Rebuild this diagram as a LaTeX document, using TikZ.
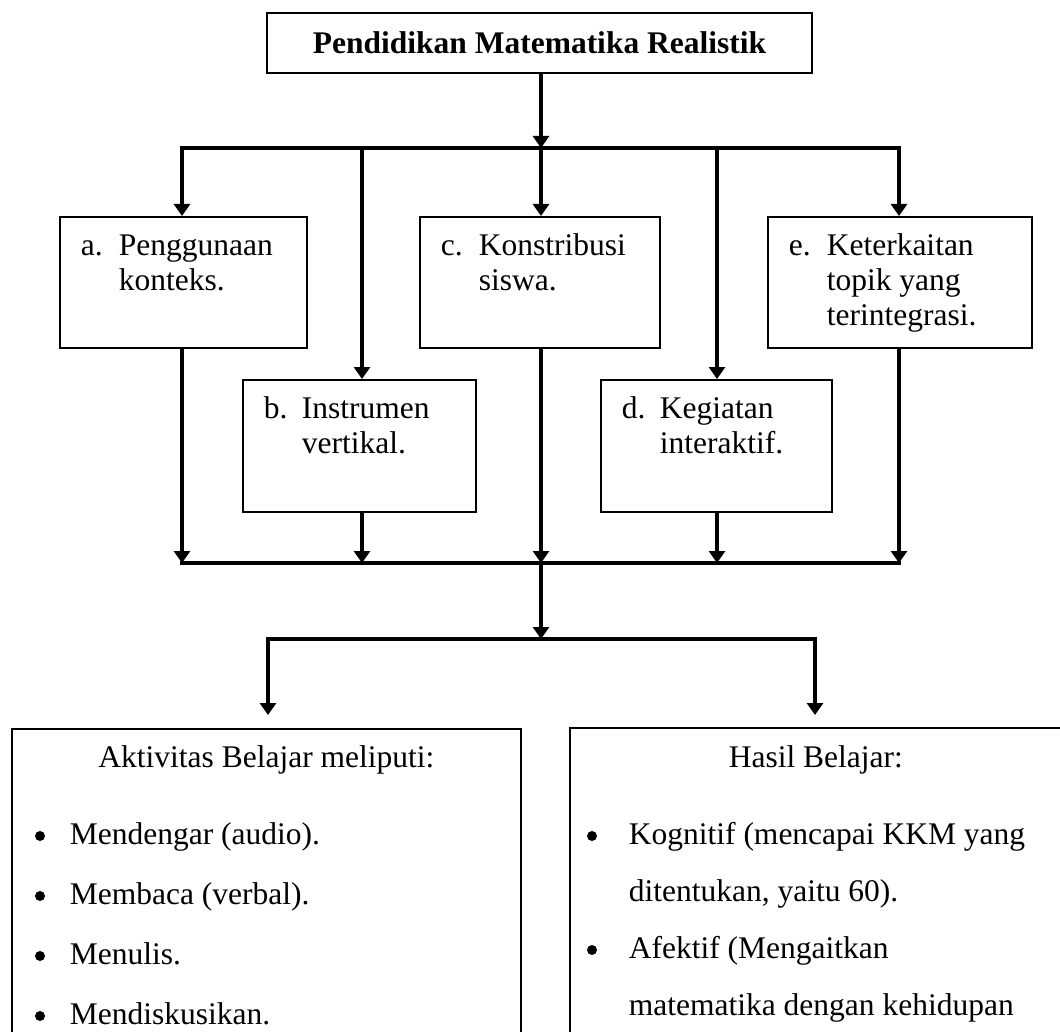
\documentclass[tikz,border=0pt]{standalone}
\usepackage{fontspec}
\setmainfont{Liberation Serif}
\usetikzlibrary{arrows.meta}
\newcommand{\boxlbl}[4]{\parbox[c][#2][t]{#1}{\leftskip=21pt\rightskip=0pt plus 1fil\parindent=0pt\hangindent=38pt\hangafter=1\noindent\rule{0pt}{39pt}\makebox[38pt][l]{#3}#4}}
\tikzset{
  conn/.style={line width=4pt},
  arr/.style={line width=4pt,-{Triangle[width=16pt,length=12pt]}},
  itembox/.style={draw,line width=1.6pt,inner sep=0pt,anchor=north west,font=\fontsize{31.5}{35}\selectfont},
  topbox/.style={draw,line width=2pt,inner sep=0pt,minimum width=545pt,minimum height=60pt,font=\bfseries\fontsize{31.5}{35}\selectfont},
  lowbox/.style={draw,line width=1.8pt,inner sep=0pt,anchor=north west,font=\fontsize{31.5}{60}\selectfont},
  bullet/.style={fill=black}
}
\begin{document}
\begin{tikzpicture}[x=1pt,y=-1pt]
\useasboundingbox[fill=white] (0,0) rectangle (1060,1032);
% top
\node[topbox] (top) at (539.5,42.7) {Pendidikan Matematika Realistik};
% principle boxes
\node[itembox] (a) at (59,216) {\boxlbl{247pt}{131pt}{a.}{Penggunaan\\konteks.}};
\node[itembox] (b) at (242,379) {\boxlbl{233pt}{132pt}{b.}{Instrumen\\vertikal.}};
\node[itembox] (c) at (419,216) {\boxlbl{240pt}{131pt}{c.}{Konstribusi\\siswa.}};
\node[itembox] (d) at (600,379) {\boxlbl{231pt}{132pt}{d.}{Kegiatan\\interaktif.}};
\node[itembox] (e) at (767,216) {\boxlbl{264pt}{131pt}{e.}{Keterkaitan\\topik yang\\terintegrasi.}};
% lower boxes
\node[lowbox] (L) at (11,728) {\parbox[c][400pt][t]{509pt}{\centering\rule{0pt}{39pt}Aktivitas Belajar meliputi:\par\vspace{17pt}%
\raggedright\leftskip=58pt
\noindent Mendengar (audio).\par
\noindent Membaca (verbal).\par
\noindent Menulis.\par
\noindent Mendiskusikan.\par}};
\node[lowbox] (R) at (569,727) {\parbox[c][400pt][t]{500pt}{\fontsize{31.5}{57}\selectfont\centering\rule{0pt}{40pt}Hasil Belajar:\hspace*{8pt}\par\vspace{20pt}%
\raggedright\leftskip=59pt
\noindent Kognitif (mencapai KKM yang\\ditentukan, yaitu 60).\par
\noindent Afektif (Mengaitkan\\matematika dengan kehidupan\par}};
% bullets
\foreach \yy in {836,896,956,1016} \fill[bullet] (40,\yy) circle (5pt);
\foreach \yy in {836,950} \fill[bullet] (592,\yy) circle (5pt);
% coordinates
\coordinate (busL) at (182,148);
\coordinate (busR) at (899,148);
\coordinate (busC) at (541,148);
\coordinate (xb) at (362,148);
\coordinate (xd) at (717,148);
\coordinate (botL) at (182,563);
\coordinate (botR) at (899,563);
\coordinate (botC) at (541,563);
\coordinate (splitC) at (541,639);
\coordinate (splitL) at (268,639);
\coordinate (splitR) at (815,639);
% top connectors
\draw[arr] (top.south -| busC) -- (busC);
\draw[arr] (busR) -- (busL) -- (busL |- a.north);
\draw[arr] (busL) -- (busR) -- (busR |- e.north);
\draw[arr] (xb) -- (xb |- b.north);
\draw[arr] (busC) -- (busC |- c.north);
\draw[arr] (xd) -- (xd |- d.north);
% lower connectors
\draw[arr] (a.south -| botL) -- (botL);
\draw[arr] (b.south -| xb) -- (xb |- botL);
\draw[arr] (c.south -| botC) -- (botC);
\draw[arr] (d.south -| xd) -- (xd |- botL);
\draw[arr] (e.south -| botR) -- (botR);
\draw[conn,line cap=rect] (botL) -- (botR);
\draw[arr] (botC) -- (splitC);
\draw[arr,shorten >=13pt] (splitR) -- (splitL) -- (splitL |- L.north);
\draw[arr,shorten >=12pt] (splitL) -- (splitR) -- (splitR |- R.north);
\end{tikzpicture}
\end{document}
